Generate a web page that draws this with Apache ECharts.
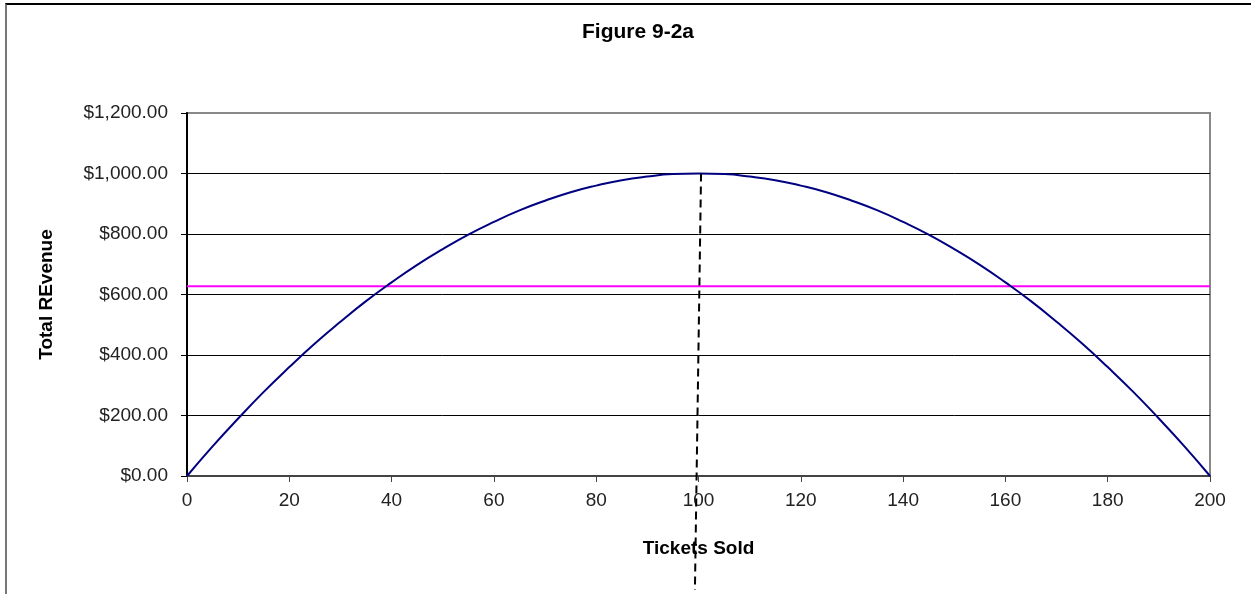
<!DOCTYPE html>
<html>
<head>
<meta charset="utf-8">
<script src="https://cdn.jsdelivr.net/npm/echarts@6/dist/echarts.min.js"></script>
<style>
  html, body { margin: 0; padding: 0; background: #fff; }
  #frame { position: absolute; left: 5px; top: 3px; width: 1260px; height: 600px;
           border-left: 2px solid #777; border-top: 2px solid #000; }
  #chart { position: absolute; left: 0; top: 0; width: 1251px; height: 594px; }
</style>
</head>
<body>
<div id="frame"></div>
<div id="chart"></div>
<script>
// tickets sold / total revenue
var tickets = [0, 5, 10, 15, 20, 25, 30, 35, 40, 45, 50, 55, 60, 65, 70, 75, 80, 85, 90, 95, 100,
               105, 110, 115, 120, 125, 130, 135, 140, 145, 150, 155, 160, 165, 170, 175, 180, 185, 190, 195, 200]
var revenue = [0, 98, 190, 278, 360, 438, 510, 578, 640, 698, 750, 798, 840, 878, 910, 938, 960, 978, 990, 998, 1000,
               998, 990, 978, 960, 938, 910, 878, 840, 798, 750, 698, 640, 578, 510, 438, 360, 278, 190, 98, 0]
// horizontal magenta level
var levelX = [0, 200]
var levelY = [627, 627]
// hand-drawn dashed marker (runs below the axis)
var markerX = [100.5, 99.3]
var markerY = [1000, -377]

var chart = echarts.init(document.getElementById('chart'))

var option = {
    animation: false,
    title: {
        text: 'Figure 9-2a',
        left: 577,
        top: 17,
        textStyle: { fontFamily: 'Liberation Sans', fontSize: 21, fontWeight: 'bold', color: '#000' }
    },
    grid: {
        left: 187, right: 41, top: 113, bottom: 118,
        show: true, borderColor: '#888', borderWidth: 2
    },
    xAxis: {
        type: 'value',
        min: 0, max: 200, interval: 20,
        name: 'Tickets Sold',
        nameLocation: 'middle',
        nameGap: 63,
        nameTextStyle: { fontFamily: 'Liberation Sans', fontSize: 19, fontWeight: 'bold', color: '#000' },
        axisLine: { lineStyle: { color: '#444', width: 2 } },
        axisTick: { show: true, length: 6, lineStyle: { color: '#444' } },
        axisLabel: { fontFamily: 'Liberation Sans', fontSize: 19, color: '#222', margin: 15 },
        splitLine: { show: false }
    },
    yAxis: {
        type: 'value',
        min: 0, max: 1200, interval: 200,
        name: 'Total REvenue',
        nameLocation: 'middle',
        nameGap: 131,
        nameRotate: 90,
        nameTextStyle: { fontFamily: 'Liberation Sans', fontSize: 19, fontWeight: 'bold', color: '#000' },
        axisLine: { show: true, lineStyle: { color: '#000', width: 2 } },
        axisTick: { show: true, length: 6, lineStyle: { color: '#000' } },
        axisLabel: {
            fontFamily: 'Liberation Sans', fontSize: 19, color: '#222', margin: 19,
            formatter: function (v) {
                return '$' + v.toLocaleString('en-US', { minimumFractionDigits: 2, maximumFractionDigits: 2 })
            }
        },
        splitLine: {
            show: true,
            lineStyle: { color: ['#000', '#000', '#000', '#000', '#000', '#000', '#888'], width: 1 }
        }
    },
    series: [
        {
            type: 'line',
            data: tickets.map(function (t, i) { return [t, revenue[i]] }),
            smooth: true,
            showSymbol: false,
            lineStyle: { color: '#000080', width: 2 },
            z: 3
        },
        {
            type: 'line',
            data: levelX.map(function (t, i) { return [t, levelY[i]] }),
            showSymbol: false,
            lineStyle: { color: '#ff00ff', width: 2 },
            z: 2
        },
        {
            type: 'line',
            data: markerX.map(function (t, i) { return [t, markerY[i]] }),
            showSymbol: false,
            clip: false,
            lineStyle: { color: '#000', width: 2, type: [8, 5] },
            z: 4
        }
    ]
}

chart.setOption(option)
</script>
</body>
</html>
